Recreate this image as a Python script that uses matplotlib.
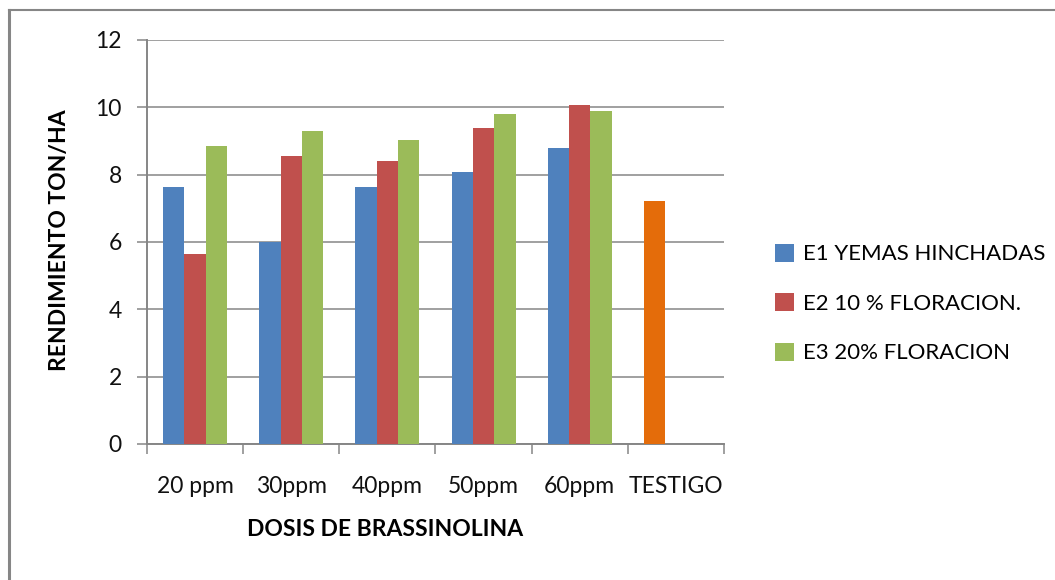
import numpy as np
import matplotlib
matplotlib.use("Agg")
import matplotlib.pyplot as plt
from matplotlib.lines import Line2D
from matplotlib.patches import Patch

plt.rcParams['font.family'] = ['Lato', 'DejaVu Sans']

categories = ["20 ppm", "30ppm", "40ppm", "50ppm", "60ppm", "TESTIGO"]
series_names = ["E1 YEMAS HINCHADAS", "E2 10 % FLORACION.", "E3 20% FLORACION"]
e1 = [7.64, 6.00, 7.64, 8.08, 8.80, 7.22]
e2 = [5.64, 8.56, 8.41, 9.39, 10.07, np.nan]
e3 = [8.85, 9.30, 9.03, 9.80, 9.89, np.nan]
y_ticks = [0, 2, 4, 6, 8, 10, 12]

colors = ["#4F81BD", "#C0504D", "#9BBB59"]
control_color = "#E46C0A"
grid_color = "#868686"
text_size = 16.5

W, H = 1055, 580
fig = plt.figure(figsize=(W / 100, H / 100), dpi=100)
ax = fig.add_axes([147 / W, 1 - 444 / H, (724 - 147) / W, (444 - 40) / H])

x = np.arange(len(categories))
bw = 0.222
for i, (vals, c) in enumerate(zip([e1, e2, e3], colors)):
    bar_colors = [c] * len(categories)
    if i == 0:
        bar_colors[-1] = control_color
    ax.bar(x + (i - 1) * bw, vals, width=bw, color=bar_colors, zorder=3)

ax.set_xlim(-0.5, len(categories) - 0.5)
ax.set_ylim(0, 12)
ax.set_yticks(y_ticks)
ax.yaxis.grid(True, color=grid_color, linewidth=1.1, zorder=0)
ax.set_xticks(x)
ax.set_xticklabels(categories)
ax.set_xticks(np.arange(-0.5, len(categories)), minor=True)

for s in ["top", "right"]:
    ax.spines[s].set_visible(False)
for s in ["left", "bottom"]:
    ax.spines[s].set_color(grid_color)
    ax.spines[s].set_linewidth(1.4)

ax.tick_params(axis="y", direction="out", length=7.2, width=1.1, color=grid_color,
               pad=11, labelsize=text_size, labelcolor="#111111")
ax.tick_params(axis="x", which="major", length=0, pad=23, labelsize=text_size,
               labelcolor="#111111")
ax.tick_params(axis="x", which="minor", direction="out", length=7.2, width=1.1,
               color=grid_color)

fig.text(385 / W, 1 - 530 / H, "DOSIS DE BRASSINOLINA", ha="center", va="center",
         fontsize=text_size, fontweight="bold", color="#000000")
fig.text(60 / W, 1 - 240 / H, "RENDIMIENTO TON/HA", ha="center", va="center",
         rotation=90, fontsize=text_size, fontweight="bold", color="#000000")

handles = [Patch(facecolor=c, edgecolor="none") for c in colors]
fig.legend(handles, series_names, loc="upper left",
           bbox_to_anchor=(766 / W, 1 - 235 / H), frameon=False,
           fontsize=16, handlelength=0.85, handleheight=0.85,
           handletextpad=0.4, labelspacing=1.3, borderaxespad=0)

# outer frame: top and left edges
fig.add_artist(Line2D([9 / W, 1], [1 - 10 / H, 1 - 10 / H], color=grid_color,
                      linewidth=1.5, transform=fig.transFigure))
fig.add_artist(Line2D([9 / W, 9 / W], [0, 1 - 10 / H], color=grid_color,
                      linewidth=2.2, transform=fig.transFigure))

fig.savefig("out.png", dpi=100, facecolor="white")
